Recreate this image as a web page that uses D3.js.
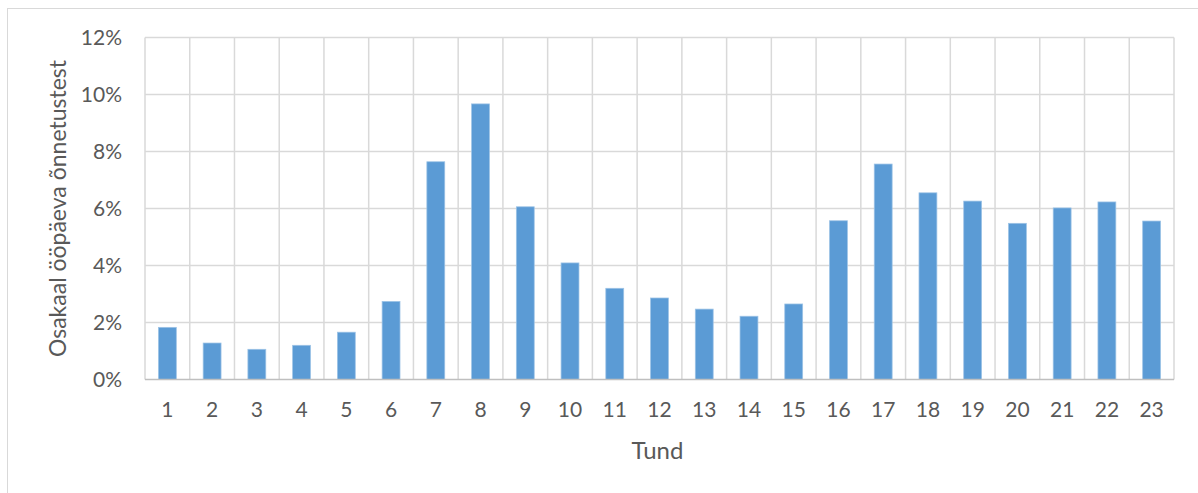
<!DOCTYPE html>
<html>
<head>
<meta charset="utf-8">
<script src="https://cdn.jsdelivr.net/npm/d3@7"></script>
<style>
  html, body { margin: 0; padding: 0; background: #fff; }
  svg text { font-family: Lato, "Open Sans", sans-serif; fill: #595959; }
</style>
</head>
<body>
<svg id="chart" width="1198" height="493"></svg>
<script>
// Hour of day (1–23) and share of the day's accidents in that hour (%)
const hours = ["1","2","3","4","5","6","7","8","9","10","11","12","13","14","15","16","17","18","19","20","21","22","23"];
const shares = [1.83, 1.28, 1.06, 1.20, 1.66, 2.74, 7.64, 9.67, 6.06, 4.09, 3.20, 2.86, 2.47, 2.22, 2.65, 5.57, 7.56, 6.55, 6.26, 5.48, 6.02, 6.23, 5.56];
const yTicks = [0, 2, 4, 6, 8, 10, 12];
const xTitle = "Tund";
const yTitle = "Osakaal ööpäeva õnnetustest";

const svg = d3.select("#chart");
const W = 1198, H = 493;
const plot = { left: 145, right: 1174, top: 37.5, bottom: 379.5 };

// outer chart frame (open on the right and bottom edges of the page)
svg.append("rect")
  .attr("x", 7.5).attr("y", 8.5)
  .attr("width", W + 10).attr("height", H + 10)
  .attr("fill", "#fff").attr("stroke", "#d9d9d9").attr("stroke-width", 1);

const x = d3.scaleBand().domain(hours).range([plot.left, plot.right]).paddingInner(0.6).paddingOuter(0.3);
const y = d3.scaleLinear().domain([0, 12]).range([plot.bottom, plot.top]);

// horizontal gridlines
svg.append("g").selectAll("line").data(yTicks.filter(d => d > 0)).join("line")
  .attr("x1", plot.left).attr("x2", plot.right)
  .attr("y1", d => y(d)).attr("y2", d => y(d))
  .attr("stroke", "#d9d9d9").attr("stroke-width", 1.5);

// vertical gridlines at category boundaries
const bounds = d3.range(hours.length + 1).map(i => plot.left + i * (plot.right - plot.left) / hours.length);
svg.append("g").selectAll("line").data(bounds).join("line")
  .attr("x1", d => d).attr("x2", d => d)
  .attr("y1", plot.top).attr("y2", plot.bottom)
  .attr("stroke", "#d9d9d9").attr("stroke-width", 1.5);

// bars
svg.append("g").selectAll("rect").data(shares).join("rect")
  .attr("x", (d, i) => x(hours[i]))
  .attr("width", x.bandwidth())
  .attr("y", d => y(d))
  .attr("height", d => y(0) - y(d))
  .attr("fill", "#5b9bd5")
  .attr("stroke", "#9dc3e6").attr("stroke-width", 0.75);

// category axis line
svg.append("line")
  .attr("x1", plot.left).attr("x2", plot.right)
  .attr("y1", plot.bottom).attr("y2", plot.bottom)
  .attr("stroke", "#bfbfbf").attr("stroke-width", 1.5);

// y tick labels
const yAxis = d3.axisLeft(y).tickValues(yTicks).tickFormat(d => d + "%").tickSize(0).tickPadding(23);
const gy = svg.append("g").attr("transform", `translate(${plot.left},0)`).call(yAxis);
gy.select(".domain").remove();
gy.selectAll("text").attr("font-size", 21).style("fill", "#595959").style("font-family", "Lato, sans-serif");

// x tick labels
const xAxis = d3.axisBottom(x).tickSize(0).tickPadding(23);
const gx = svg.append("g").attr("transform", `translate(0,${plot.bottom})`).call(xAxis);
gx.select(".domain").remove();
gx.selectAll("text").attr("font-size", 21).style("fill", "#595959").style("font-family", "Lato, sans-serif");

// axis titles
svg.append("text")
  .attr("x", (plot.left + plot.right) / 2 - 2).attr("y", 459)
  .attr("text-anchor", "middle").attr("font-size", 24)
  .text(xTitle);

svg.append("text")
  .attr("transform", `translate(66,${(plot.top + plot.bottom) / 2}) rotate(-90)`)
  .attr("text-anchor", "middle").attr("font-size", 23)
  .text(yTitle);
</script>
</body>
</html>
